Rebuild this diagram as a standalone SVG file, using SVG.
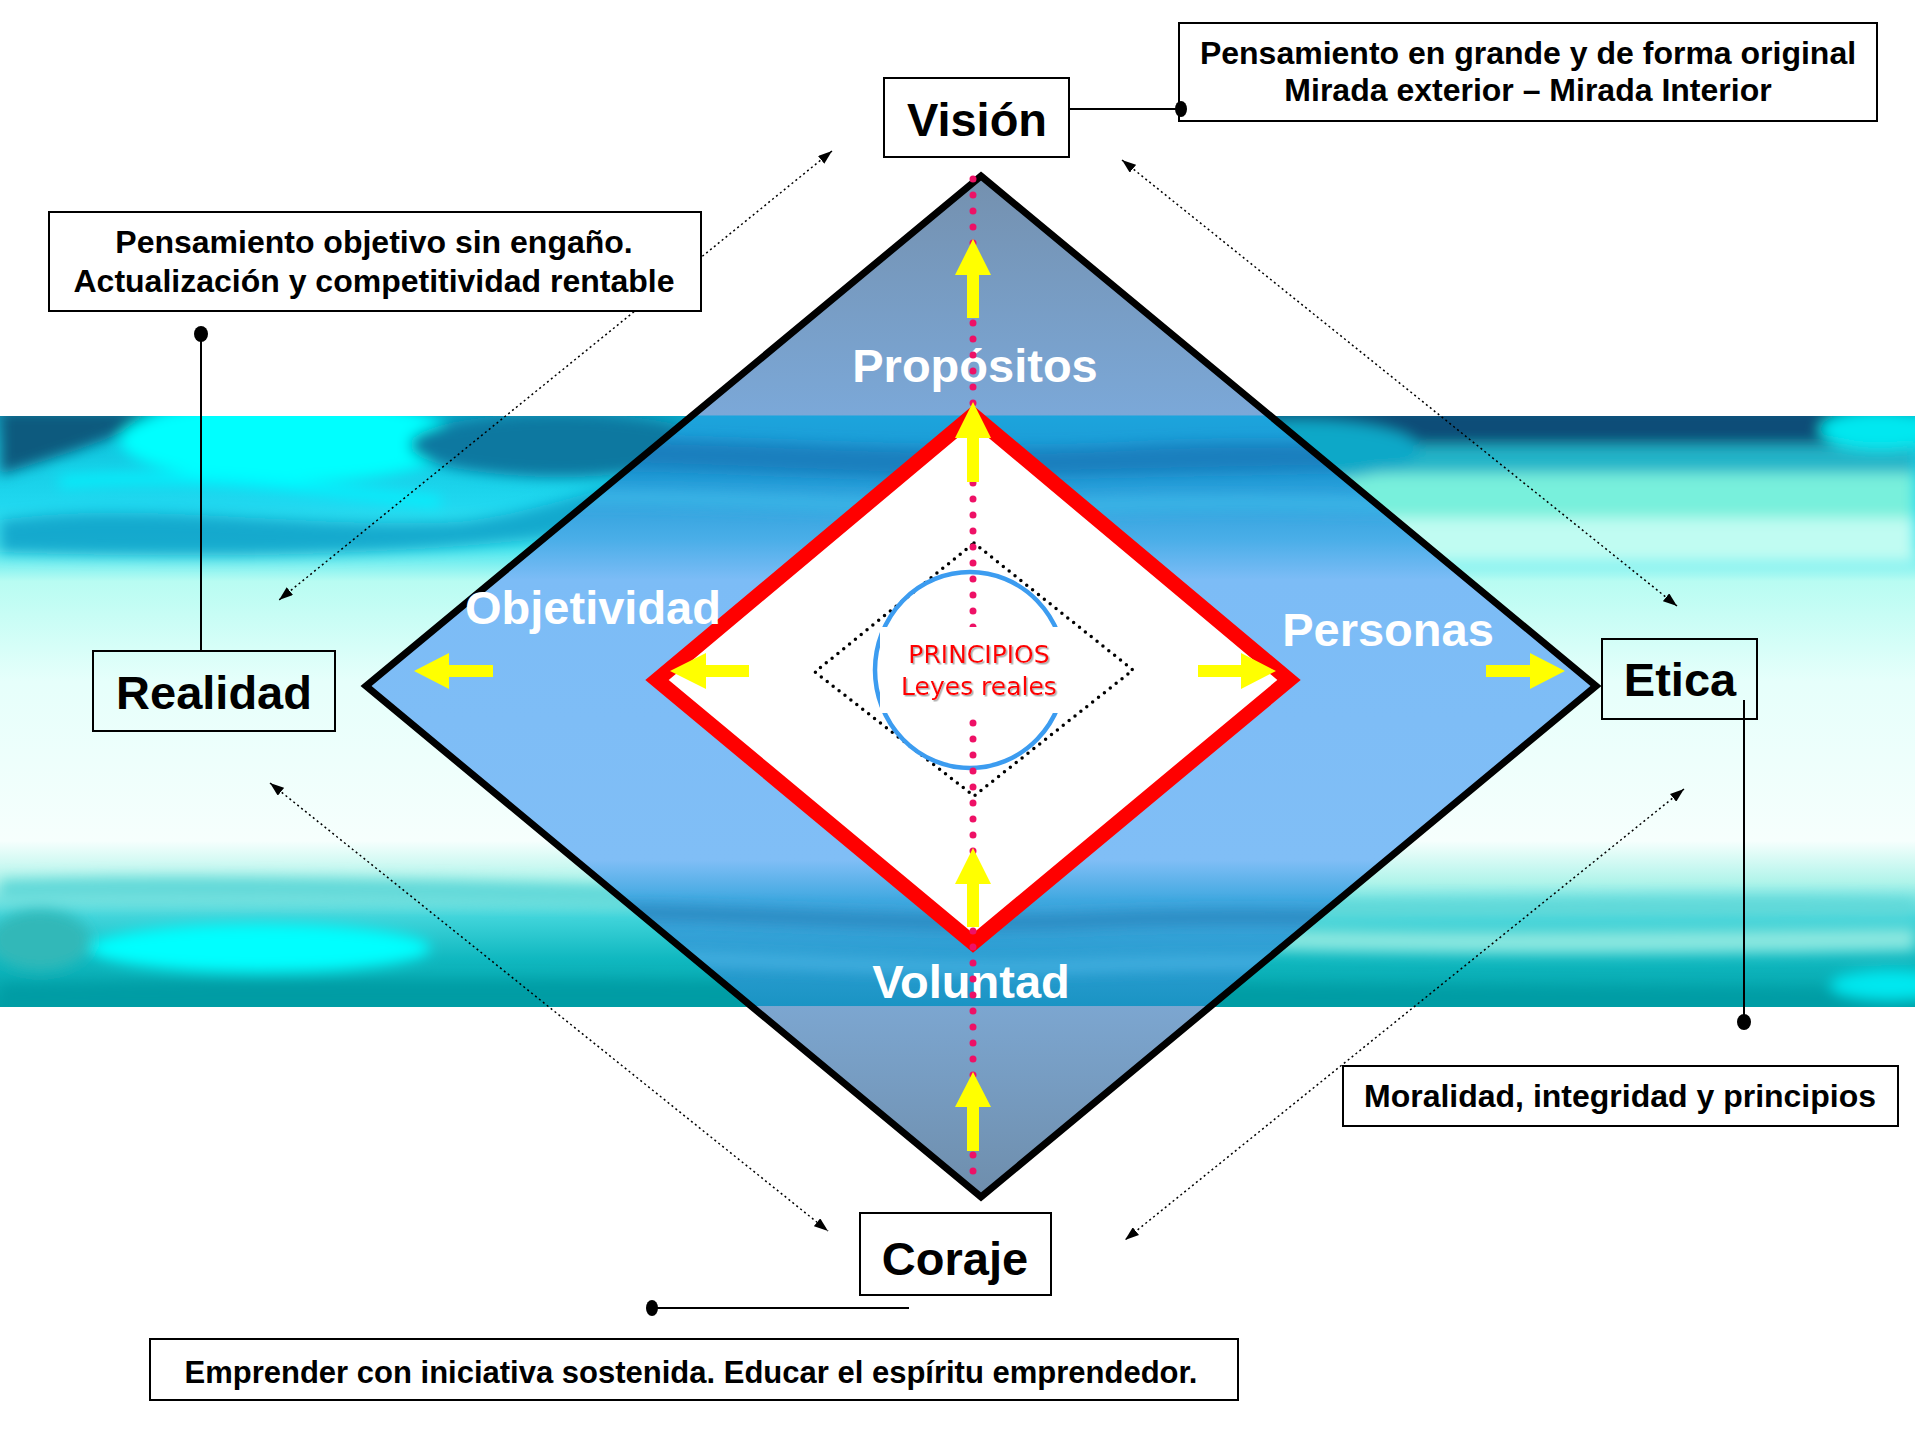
<svg xmlns="http://www.w3.org/2000/svg" width="1915" height="1438" viewBox="0 0 1915 1438">
<defs>
<style>
.box{fill:#fff;stroke:#000;stroke-width:2}
.boxn{fill:none;stroke:#000;stroke-width:2}
.big{font-family:"Liberation Sans",Arial,sans-serif;font-weight:bold;font-size:47px;text-anchor:middle;fill:#000}
.lbl{font-family:"Liberation Sans",Arial,sans-serif;font-weight:bold;font-size:47px;text-anchor:middle;fill:#fff}
.small{font-family:"Liberation Sans",Arial,sans-serif;font-weight:bold;font-size:32px;text-anchor:middle;fill:#000}
.prin{font-family:"DejaVu Sans",sans-serif;font-size:25px;text-anchor:middle;fill:#ff0000}
.dotln{stroke:#000;stroke-width:1.5;stroke-dasharray:2 3;fill:none;marker-start:url(#ah);marker-end:url(#ah)}
.yel{fill:#ffff00}
.lead{stroke:#000;stroke-width:2;fill:none}
</style>
<marker id="ah" viewBox="0 0 14 10" refX="14" refY="5" markerWidth="14" markerHeight="10" markerUnits="userSpaceOnUse" orient="auto-start-reverse"><path d="M0,0 L14,5 L0,10 z" fill="#000"/></marker>
<linearGradient id="bandG" gradientUnits="userSpaceOnUse" x1="0" y1="416" x2="0" y2="1006">
<stop offset="0" stop-color="#0aa8c8"/>
<stop offset="0.05" stop-color="#10c8e0"/>
<stop offset="0.15" stop-color="#20d8f0"/>
<stop offset="0.22" stop-color="#40e4ee"/>
<stop offset="0.28" stop-color="#b8fcf2"/>
<stop offset="0.45" stop-color="#e6fffb"/>
<stop offset="0.72" stop-color="#f6fffd"/>
<stop offset="0.79" stop-color="#b0f4ea"/>
<stop offset="0.85" stop-color="#40d4da"/>
<stop offset="0.92" stop-color="#10b8c0"/>
<stop offset="1" stop-color="#00a0a6"/>
</linearGradient>
<linearGradient id="dG" gradientUnits="userSpaceOnUse" x1="0" y1="173" x2="0" y2="1200">
<stop offset="0" stop-color="#7490ae"/>
<stop offset="0.2356" stop-color="#7ba8d8"/>
<stop offset="0.2366" stop-color="#1ca4dc"/>
<stop offset="0.289" stop-color="#1c98d4"/>
<stop offset="0.357" stop-color="#4aaee8"/>
<stop offset="0.396" stop-color="#7cbcf6"/>
<stop offset="0.669" stop-color="#80bef6"/>
<stop offset="0.708" stop-color="#40a8e0"/>
<stop offset="0.811" stop-color="#1a94c4"/>
<stop offset="0.8116" stop-color="#7ca6d0"/>
<stop offset="1" stop-color="#6e8dab"/>
</linearGradient>
<filter id="bl" x="-20%" y="-80%" width="140%" height="260%"><feGaussianBlur stdDeviation="7"/></filter>
<filter id="sh" x="-10%" y="-30%" width="120%" height="160%"><feDropShadow dx="1.5" dy="1.5" stdDeviation="0.6" flood-color="#999" flood-opacity="0.8"/></filter>
<clipPath id="bandClip"><rect x="0" y="416" width="1915" height="591"/></clipPath>
<clipPath id="dClip"><polygon points="981,176 1596,686 981,1197 366,686"/></clipPath>
</defs>

<rect x="0" y="0" width="1915" height="1438" fill="#fff"/>

<g id="band">
<rect x="0" y="416" width="1915" height="591" fill="url(#bandG)"/>
<g clip-path="url(#bandClip)" filter="url(#bl)">
<path d="M0,410 H160 C120,440 60,455 0,475 Z" fill="#0a5a7e"/>
<ellipse cx="290" cy="440" rx="170" ry="42" fill="#00ffff"/>
<ellipse cx="560" cy="445" rx="150" ry="32" fill="#0b78a0"/>
<path d="M0,520 C150,500 300,530 460,522 C520,515 560,500 640,480 L640,525 C500,548 300,562 0,552 Z" fill="#12a0c8" opacity="0.85"/>
<path d="M60,482 C200,470 330,492 440,502" stroke="#00f4ff" stroke-width="10" fill="none"/>
<rect x="1250" y="405" width="665" height="40" fill="#0a4e78"/>
<rect x="1200" y="445" width="715" height="28" fill="#20b4c8"/>
<rect x="1200" y="473" width="715" height="45" fill="#78f0dc"/>
<rect x="1200" y="518" width="715" height="45" fill="#c0fcf2"/>
<ellipse cx="1300" cy="450" rx="120" ry="30" fill="#10a8c8"/>
<ellipse cx="1880" cy="430" rx="60" ry="20" fill="#00e8f0"/>
<path d="M0,880 C300,870 700,890 1100,900 C1400,905 1700,895 1915,900 L1915,915 C1600,915 1300,920 1000,915 C600,905 300,895 0,900 Z" fill="#60d8d8"/>
<ellipse cx="260" cy="948" rx="170" ry="24" fill="#00ffff"/>
<path d="M1150,925 C1400,935 1650,930 1915,928 L1915,950 C1650,955 1400,955 1150,945 Z" fill="#8ce8e0"/>
<path d="M0,985 C400,975 900,985 1915,990 L1915,1010 L0,1010 Z" fill="#009ca4"/>
<ellipse cx="1890" cy="985" rx="60" ry="15" fill="#00e8f0"/>
<ellipse cx="40" cy="940" rx="50" ry="30" fill="#30b8b8"/>
</g>
</g>

<g id="outer-diamond">
<polygon points="981,176 1596,686 981,1197 366,686" fill="url(#dG)"/>
<g clip-path="url(#dClip)">
<g clip-path="url(#bandClip)" filter="url(#bl)">
<path d="M450,440 C700,430 900,460 1150,445 C1300,438 1450,450 1600,440 L1600,462 C1400,470 1200,470 950,478 C750,472 600,462 450,466 Z" fill="#1878b8" opacity="0.8"/>
<path d="M500,500 C700,490 900,515 1100,505 C1300,498 1450,510 1600,505" stroke="#3ab8e8" stroke-width="12" fill="none"/>
<path d="M500,915 C700,905 900,930 1100,920 C1300,912 1450,925 1600,918" stroke="#2a88c0" stroke-width="14" fill="none"/>
<path d="M500,960 C700,950 900,975 1100,965 C1300,958 1450,968 1600,962" stroke="#48b4e4" stroke-width="10" fill="none"/>
</g>
</g>
<polygon points="981,176 1596,686 981,1197 366,686" fill="none" stroke="#000" stroke-width="7" stroke-linejoin="miter" stroke-miterlimit="10"/>
</g>

<g id="inner-diamond">
<polygon points="973,415 1289,680 973,943 657,680" fill="#fff" stroke="#ff0000" stroke-width="15" stroke-miterlimit="10"/>
<polygon points="974,543 1133,670 974,796 815,672" fill="none" stroke="#000" stroke-width="3.5" stroke-linecap="round" stroke-dasharray="0 7.5"/>
<ellipse cx="970" cy="670" rx="95" ry="98" fill="none" stroke="#3c9cf0" stroke-width="4.5"/>
</g>

<g id="labels">
<text class="lbl" x="975" y="382">Propósitos</text>
<text class="lbl" x="593" y="624">Objetividad</text>
<text class="lbl" x="1388" y="646">Personas</text>
<text class="lbl" x="971" y="998">Voluntad</text>
</g>

<line id="axis" x1="973" y1="179" x2="973" y2="1172" stroke="#ee1166" stroke-width="7" stroke-linecap="round" stroke-dasharray="0 16"/>

<g id="principios">
<rect x="880" y="627" width="188" height="86" fill="#fff"/>
<g filter="url(#sh)">
<text class="prin" x="979" y="663">PRINCIPIOS</text>
<text class="prin" x="979" y="695">Leyes reales</text>
</g>
</g>

<g id="yellow-arrows" class="yel">
<polygon points="973,239 991,275 979,275 979,318 967,318 967,275 955,275"/>
<polygon points="973,402 991,438 979,438 979,482 967,482 967,438 955,438"/>
<polygon points="973,848 991,884 979,884 979,927 967,927 967,884 955,884"/>
<polygon points="973,1072 991,1107 979,1107 979,1151 967,1151 967,1107 955,1107"/>
<polygon points="414,671 449,653 449,665 493,665 493,677 449,677 449,689"/>
<polygon points="670,671 706,653 706,665 749,665 749,677 706,677 706,689"/>
<polygon points="1276,671 1241,653 1241,665 1198,665 1198,677 1241,677 1241,689"/>
<polygon points="1565,671 1530,653 1530,665 1486,665 1486,677 1530,677 1530,689"/>
</g>

<g id="connectors">
<line class="dotln" x1="832" y1="151" x2="279" y2="600"/>
<line class="dotln" x1="1122" y1="160" x2="1677" y2="606"/>
<line class="dotln" x1="270" y1="783" x2="828" y2="1231"/>
<line class="dotln" x1="1684" y1="789" x2="1125" y2="1240"/>
</g>

<g id="vision">
<rect class="box" x="884" y="78" width="185" height="79"/>
<text class="big" x="977" y="136">Visión</text>
</g>
<g id="vision-note">
<rect class="box" x="1179" y="23" width="698" height="98"/>
<text class="small" x="1528" y="64">Pensamiento en grande y de forma original</text>
<text class="small" x="1528" y="101">Mirada exterior – Mirada Interior</text>
</g>
<g id="realidad-note">
<rect class="box" x="49" y="212" width="652" height="99"/>
<text class="small" x="374" y="253">Pensamiento objetivo sin engaño.</text>
<text class="small" x="374" y="292">Actualización y competitividad rentable</text>
</g>
<g id="realidad">
<rect class="boxn" x="93" y="651" width="242" height="80"/>
<text class="big" x="214" y="709">Realidad</text>
</g>
<g id="etica">
<rect class="boxn" x="1602" y="639" width="155" height="80"/>
<text class="big" x="1680" y="696">Etica</text>
</g>
<g id="etica-note">
<rect class="box" x="1343" y="1066" width="555" height="60"/>
<text class="small" x="1620" y="1107">Moralidad, integridad y principios</text>
</g>
<g id="coraje">
<rect class="box" x="860" y="1213" width="191" height="82"/>
<text class="big" x="955" y="1275">Coraje</text>
</g>
<g id="coraje-note">
<rect class="box" x="150" y="1339" width="1088" height="61"/>
<text class="small" x="691" y="1383" style="font-size:31px">Emprender con iniciativa sostenida. Educar el espíritu emprendedor.</text>
</g>

<g id="leaders">
<line class="lead" x1="1069" y1="109" x2="1181" y2="109"/>
<ellipse cx="1181" cy="109" rx="6" ry="8"/>
<line class="lead" x1="201" y1="334" x2="201" y2="652"/>
<ellipse cx="201" cy="334" rx="7" ry="8"/>
<line class="lead" x1="1744" y1="700" x2="1744" y2="1022"/>
<ellipse cx="1744" cy="1022" rx="7" ry="8"/>
<line class="lead" x1="909" y1="1308" x2="652" y2="1308"/>
<ellipse cx="652" cy="1308" rx="6" ry="8"/>
</g>
</svg>
